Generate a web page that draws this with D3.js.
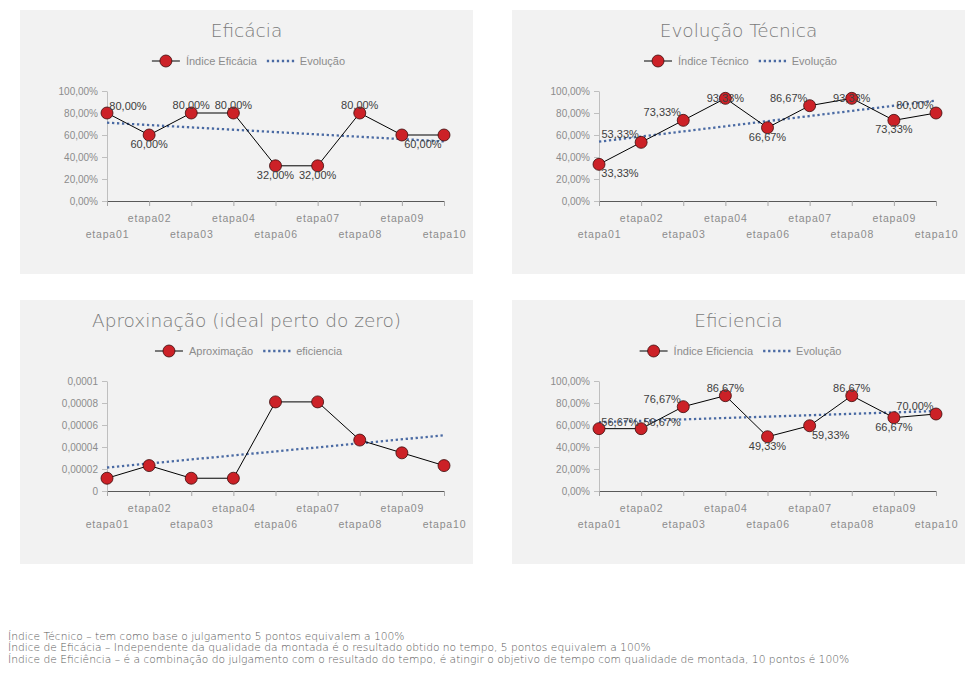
<!DOCTYPE html>
<html>
<head>
<meta charset="utf-8">
<script src="https://cdn.jsdelivr.net/npm/d3@7"></script>
<style>
  body { margin: 0; background: #fff; }
  svg text { font-family: "Liberation Sans", Arial, sans-serif; }
</style>
</head>
<body>
<svg id="chart" width="973" height="677"></svg>
<script>
// stages (etapa05 is missing in the source sheet)
const categories = ["etapa01", "etapa02", "etapa03", "etapa04", "etapa06", "etapa07", "etapa08", "etapa09", "etapa10"];

const eficacia = [0.80, 0.60, 0.80, 0.80, 0.32, 0.32, 0.80, 0.60, 0.60];
const tecnico = [0.3333, 0.5333, 0.7333, 0.9333, 0.6667, 0.8667, 0.9333, 0.7333, 0.80];
const aproximacao = [0.0000116, 0.0000231, 0.0000116, 0.0000116, 0.0000810, 0.0000810, 0.0000463, 0.0000347, 0.0000231];
const eficiencia = [0.5667, 0.5667, 0.7667, 0.8667, 0.4933, 0.5933, 0.8667, 0.6667, 0.70];

const pctTicks = [0, 0.2, 0.4, 0.6, 0.8, 1];
const aproxTicks = [0, 0.00002, 0.00004, 0.00006, 0.00008, 0.0001];

// where excel put each data label (null = no label)
const eficaciaLabels = ["tr", "b", "t", "t", "b", "b", "t", "br", null];
const tecnicoLabels = ["br", "tl", "tl", "c", "b", "tl", "c", "b", "tl"];
const eficienciaLabels = ["tr", "tr", "tl", "t", "b", "br", "t", "b", "tl"];

const notes = [
  "Índice Técnico – tem como base o julgamento 5 pontos equivalem a 100%",
  "Índice de Eficácia – Independente da qualidade da montada é o resultado obtido no tempo, 5 pontos equivalem a 100%",
  "Índice de Eficiência – é a combinação do julgamento com o resultado do tempo, é atingir o objetivo de tempo com qualidade de montada, 10 pontos é 100%"
];

const ptBR = d3.formatLocale({ decimal: ",", thousands: ".", grouping: [3], currency: ["R$", ""] });
const fmtPct = ptBR.format(".2%");
const fmtSmall = d => d === 0 ? "0" : ptBR.format(".5~f")(d);

const labelOffset = {
  t: [0, -8], b: [0, 9], c: [0, 0],
  tl: [-21, -8], tr: [21, -7], br: [21, 9]
};

const svg = d3.select("#chart");
const panelW = 453, panelH = 264;
const plot = { left: 87, top: 81, width: 337, height: 110 };

function drawPanel(cfg) {
  const g = svg.append("g").attr("transform", `translate(${cfg.x},${cfg.y})`);
  g.append("rect").attr("width", panelW).attr("height", panelH).attr("fill", "#f2f2f2");

  g.append("text")
    .attr("x", panelW / 2).attr("y", 20)
    .attr("text-anchor", "middle").attr("dominant-baseline", "central")
    .attr("font-size", 18.5).attr("fill", "#7a7a7a")
    .style("font-family", "'DejaVu Sans', sans-serif").style("font-weight", 200)
    .text(cfg.title);

  // legend
  const lg = g.append("g").attr("transform", `translate(0,51)`);
  lg.append("line").attr("x1", 0).attr("x2", 28).attr("stroke", "#000").attr("stroke-width", 1);
  lg.append("circle").attr("cx", 14).attr("r", 6).attr("fill", "#cc2127").attr("stroke", "#3b0b0b").attr("stroke-width", 0.8);
  const t1 = lg.append("text").attr("x", 34).attr("dominant-baseline", "central")
    .attr("font-size", 11).attr("fill", "#8c8c8c").text(cfg.series);
  const w1 = t1.node().getComputedTextLength();
  const dx2 = 34 + w1 + 10;
  lg.append("line").attr("x1", dx2).attr("x2", dx2 + 30)
    .attr("stroke", "#4a6aa3").attr("stroke-width", 2.3).attr("stroke-dasharray", "2.3,2.7");
  const t2 = lg.append("text").attr("x", dx2 + 33).attr("dominant-baseline", "central")
    .attr("font-size", 11).attr("fill", "#8c8c8c").text(cfg.trend);
  const total = dx2 + 33 + t2.node().getComputedTextLength();
  lg.attr("transform", `translate(${(panelW - total) / 2 + 2},51)`);

  const pg = g.append("g").attr("transform", `translate(${plot.left},${plot.top})`);
  const x = d3.scalePoint().domain(categories).range([0, plot.width]);
  const y = d3.scaleLinear().domain(cfg.domain).range([plot.height, 0]);

  const yAxis = pg.append("g")
    .call(d3.axisLeft(y).tickValues(cfg.ticks).tickFormat(cfg.format).tickSize(5).tickSizeOuter(0));
  yAxis.select(".domain").attr("stroke", "#bfbfbf");
  yAxis.selectAll(".tick line").attr("stroke", "#bfbfbf");
  yAxis.selectAll(".tick text").attr("fill", "#8c8c8c").attr("font-size", 10)
    .attr("font-family", null).attr("x", -9);

  const xAxis = pg.append("g").attr("transform", `translate(0,${plot.height})`)
    .call(d3.axisBottom(x).tickSize(5).tickSizeOuter(0));
  xAxis.select(".domain").attr("stroke", "#595959");
  xAxis.selectAll(".tick line").attr("stroke", "#a6a6a6");
  xAxis.selectAll(".tick text").attr("fill", "#8c8c8c").attr("font-size", 10.5)
    .attr("font-family", null).style("letter-spacing", "0.8px")
    .attr("y", (d, i) => i % 2 ? 14 : 30);

  // linear trend like excel's trendline, x = 1..n
  const vals = cfg.values;
  const n = vals.length;
  const mx = (n + 1) / 2, my = d3.mean(vals);
  const slope = d3.sum(vals, (v, i) => (i + 1 - mx) * (v - my)) / d3.sum(vals, (v, i) => (i + 1 - mx) ** 2);
  const trendAt = i => my + slope * (i + 1 - mx);

  pg.append("line")
    .attr("x1", x(categories[0])).attr("y1", y(trendAt(0)))
    .attr("x2", x(categories[n - 1])).attr("y2", y(trendAt(n - 1)))
    .attr("stroke", "#4a6aa3").attr("stroke-width", 2.3).attr("stroke-dasharray", "2.3,2.7");

  const line = d3.line().x((d, i) => x(categories[i])).y(d => y(d));
  pg.append("path").datum(vals).attr("d", line)
    .attr("fill", "none").attr("stroke", "#000").attr("stroke-width", 1);

  pg.selectAll("circle.pt").data(vals).join("circle").attr("class", "pt")
    .attr("cx", (d, i) => x(categories[i])).attr("cy", d => y(d)).attr("r", 6)
    .attr("fill", "#cc2127").attr("stroke", "#3b0b0b").attr("stroke-width", 0.8);

  if (cfg.labels) {
    pg.selectAll("text.lbl").data(vals.map((v, i) => ({ v, i, pos: cfg.labels[i] })).filter(d => d.pos))
      .join("text").attr("class", "lbl")
      .attr("x", d => x(categories[d.i]) + labelOffset[d.pos][0])
      .attr("y", d => y(d.v) + labelOffset[d.pos][1])
      .attr("text-anchor", "middle").attr("dominant-baseline", "central")
      .attr("font-size", 11).attr("fill", "#404040")
      .text(d => fmtPct(d.v));
  }
}

drawPanel({ x: 20, y: 10, title: "Eficácia", series: "Índice Eficácia", trend: "Evolução",
  values: eficacia, domain: [0, 1], ticks: pctTicks, format: fmtPct, labels: eficaciaLabels });
drawPanel({ x: 512, y: 10, title: "Evolução Técnica", series: "Índice Técnico", trend: "Evolução",
  values: tecnico, domain: [0, 1], ticks: pctTicks, format: fmtPct, labels: tecnicoLabels });
drawPanel({ x: 20, y: 300, title: "Aproxinação (ideal perto do zero)", series: "Aproximação", trend: "eficiencia",
  values: aproximacao, domain: [0, 0.0001], ticks: aproxTicks, format: fmtSmall, labels: null });
drawPanel({ x: 512, y: 300, title: "Eficiencia", series: "Índice Eficiencia", trend: "Evolução",
  values: eficiencia, domain: [0, 1], ticks: pctTicks, format: fmtPct, labels: eficienciaLabels });

svg.append("g").selectAll("text").data(notes).join("text")
  .attr("x", 8).attr("y", (d, i) => 639.5 + i * 11.6)
  .attr("font-size", 10.7).attr("fill", "#5a5a5a")
  .style("font-family", "'DejaVu Sans', sans-serif").style("font-weight", 200)
  .text(d => d);
</script>
</body>
</html>
